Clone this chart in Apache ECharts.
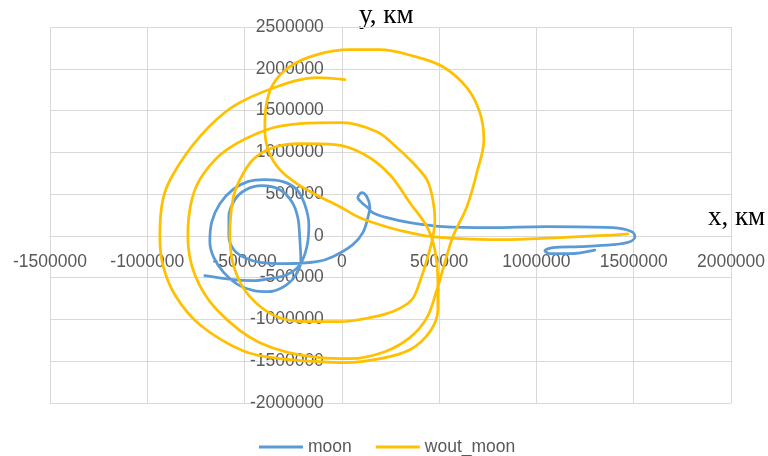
<!DOCTYPE html>
<html>
<head>
<meta charset="utf-8">
<script src="https://cdn.jsdelivr.net/npm/echarts@6/dist/echarts.min.js"></script>
<style>
  html, body { margin: 0; padding: 0; background: #ffffff; }
  #chart { width: 768px; height: 456px; }
</style>
</head>
<body>
<div id="chart"></div>
<script>
// Trajectory with the Moon (x, y in km)
const moonX = [-704200, -560300, -457500, -370100, -282700, -215900, -179900, -169600, -190200, -231300,
  -303300, -395800, -483200, -560300, -627100, -668200, -678500, -657900, -606500, -534600,
  -452300, -380400, -308400, -246700, -210700, -215900, -226200, -257000, -318700, -411200,
  -493400, -550000, -580800, -580800, -555100, -498600, -411200, -293000, -128500, -46300,
  56500, 107900, 133600, 143900, 128500, 102800, 82200, 102800, 133600, 159300,
  231300, 349500, 519100, 760700, 1053700, 1392900, 1490600, 1506000, 1480300, 1392900,
  1223300, 1084500, 1043400, 1069100, 1171900, 1300000];
const moonY = [-476300, -524200, -536200, -512200, -464400, -344700, -129300, 134000, 373400, 552900,
  648700, 672600, 648700, 552900, 385400, 169900, -69400, -260900, -440400, -584000,
  -655800, -667800, -619900, -500300, -308800, -45500, 217800, 409300, 552900, 600800,
  552900, 433200, 229800, 0, -165200, -260900, -320700, -332700, -308800, -248900,
  -105300, 38300, 217800, 349500, 469100, 517000, 457200, 397300, 337500, 277700,
  217800, 158000, 110100, 98100, 110100, 98100, 50300, -9600, -69400, -105300,
  -129300, -141200, -177100, -213000, -213000, -170000];

// Trajectory without the Moon (x, y in km)
const woutX = [1470000, 1326000, 1120500, 812000, 606500, 462600, 349500, 246700, 92500, -10300,
  -123400, -231300, -318700, -375200, -395800, -390600, -354700, -267300, -128500, 41100,
  195300, 359800, 519100, 642500, 709300, 729900, 693900, 642500, 570500, 529400,
  488300, 436900, 349500, 221000, 41100, -113100, -421500, -642500, -755600, -791600,
  -771000, -714500, -591100, -385500, -215900, 0, 179900, 272400, 359800, 436900,
  467700, 478000, 467700, 442000, 400900, 359800, 272400, 143900, -10300, -164500,
  -334100, -472900, -550000, -575700, -560300, -524300, -457500, -354700, -215900, -36000,
  118200, 246700, 349500, 436900, 478000, 493400, 493400, 452300, 349500, 195300,
  15400, -113100, -318700, -508900, -729900, -858400, -920100, -935500, -920100, -868700,
  -729900, -560300, -334100, -128500, 15400];
const woutY = [25000, 2000, -21500, -45500, -33500, -9600, 38300, 98100, 217800, 349500,
  481100, 624700, 792300, 1007700, 1271000, 1534300, 1809600, 2025000, 2168600, 2228400,
  2228400, 2156600, 2025000, 1773700, 1474500, 1151300, 756400, 349500, -9600, -320700,
  -643900, -979000, -1218300, -1385900, -1469700, -1457700, -1278200, -883200, -464400, 0,
  433200, 732400, 1031600, 1271000, 1342800, 1354800, 1247100, 1079500, 888000, 672600,
  433200, 193900, -9600, -249000, -548100, -763600, -895200, -979000, -1026900, -1026900,
  -967000, -727700, -404500, 0, 433200, 672600, 912000, 1055600, 1103400, 1091500,
  971800, 732400, 397300, 110100, -165200, -524200, -883200, -1146500, -1362000, -1469700,
  -1517500, -1505600, -1469700, -1373900, -1062800, -703700, -344700, 0, 433200, 732400,
  1187200, 1546300, 1785600, 1893300, 1869400];

// Axis ranges and tick step
const xRange = [-1500000, 2000000];
const yRange = [-2000000, 2500000];
const tickStep = 500000;

const zip = (xs, ys) => xs.map((x, i) => [x, ys[i]]);

// Plot area
const W = 768, H = 456;
const gridBox = { left: 50, right: 37, top: 27, bottom: 53 };
const plotW = W - gridBox.left - gridBox.right;
const plotH = H - gridBox.top - gridBox.bottom;
// Shift both axes so they cross at the origin
const xAxisShift = -plotH * (0 - yRange[0]) / (yRange[1] - yRange[0]);
const yAxisShift = -plotW * (0 - xRange[0]) / (xRange[1] - xRange[0]);

const labelStyle = { color: '#595959', fontSize: 17.5, fontFamily: '"Liberation Sans", Arial, sans-serif' };
const gridColor = '#d9d9d9';
const nameFont = '27px "Liberation Serif", "Times New Roman", serif';

const chart = echarts.init(document.getElementById('chart'), null, { renderer: 'canvas' });
chart.setOption({
  animation: false,
  backgroundColor: '#ffffff',
  grid: Object.assign({ containLabel: false, outerBoundsMode: 'none' }, gridBox),
  xAxis: {
    type: 'value', min: xRange[0], max: xRange[1], interval: tickStep,
    position: 'bottom', offset: xAxisShift,
    axisLine: { show: true, onZero: false, lineStyle: { color: gridColor, width: 1 } },
    axisTick: { show: false },
    axisLabel: Object.assign({ margin: 17, formatter: v => String(v) }, labelStyle),
    splitLine: { show: true, lineStyle: { color: gridColor, width: 1 } }
  },
  yAxis: {
    type: 'value', min: yRange[0], max: yRange[1], interval: tickStep,
    position: 'left', offset: yAxisShift,
    axisLine: { show: true, onZero: false, lineStyle: { color: gridColor, width: 1 } },
    axisTick: { show: false },
    axisLabel: Object.assign({ margin: 18, formatter: v => String(v) }, labelStyle),
    splitLine: { show: true, lineStyle: { color: gridColor, width: 1 } }
  },
  legend: {
    top: 433, left: 254,
    icon: 'rect', itemWidth: 44, itemHeight: 3, itemGap: 24,
    textStyle: labelStyle,
    data: ['moon', 'wout_moon']
  },
  graphic: [
    { type: 'text', left: 359, top: 2,
      style: { text: 'у, км', fill: '#000000', font: nameFont } },
    { type: 'text', left: 708, top: 204,
      style: { text: 'х, км', fill: '#000000', font: nameFont } }
  ],
  series: [
    {
      name: 'moon', type: 'line', data: zip(moonX, moonY),
      smooth: 0.35, symbol: 'none', showSymbol: false,
      lineStyle: { color: '#5B9BD5', width: 2.75, cap: 'round', join: 'round' },
      itemStyle: { color: '#5B9BD5' }
    },
    {
      name: 'wout_moon', type: 'line', data: zip(woutX, woutY),
      smooth: 0.35, symbol: 'none', showSymbol: false,
      lineStyle: { color: '#FFC000', width: 2.75, cap: 'round', join: 'round' },
      itemStyle: { color: '#FFC000' }
    }
  ]
});
</script>
</body>
</html>
